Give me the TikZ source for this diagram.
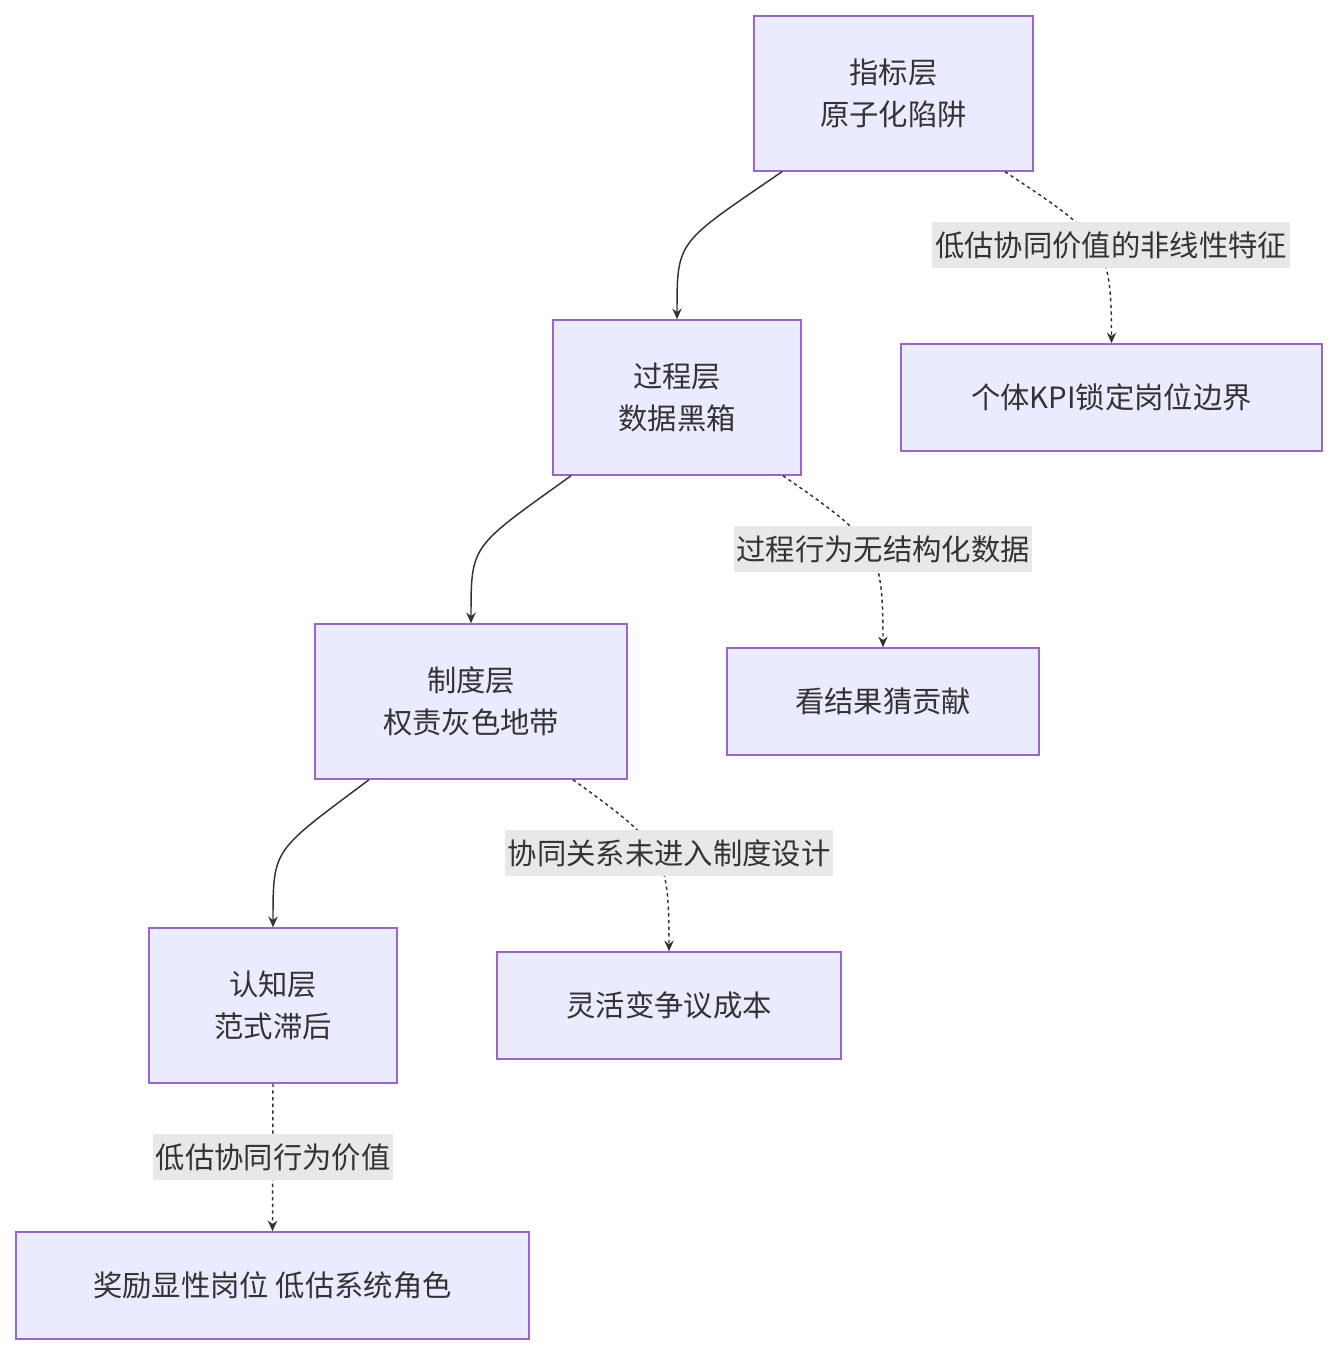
\documentclass[tikz,border=0pt]{standalone}
\usepackage{fontspec}
\setmainfont{Noto Sans CJK SC}
\usetikzlibrary{calc,arrows.meta}
\begin{document}
\begin{tikzpicture}[x=0.75pt,y=-0.75pt,
  box/.style={draw=violet!70!blue!60,fill=blue!8,line width=1.1pt,minimum height=155*0.75pt,align=center,font=\fontsize{22}{32}\selectfont,text=black!80,inner sep=0pt},
  sbox/.style={box,minimum height=107*0.75pt},
  lab/.style={fill=black!9,font=\fontsize{22}{28}\selectfont,text=black!80,inner sep=2pt,minimum height=46*0.75pt},
  sol/.style={draw=black!80,line width=1.1pt,-{Stealth[length=8pt,width=7pt]}},
  dsh/.style={sol,dashed,dash pattern=on 2.5pt off 2.5pt}]
\useasboundingbox (0,0) rectangle (1337,1356);
\node[box,minimum width=279*0.75pt] (A) at (893.5,93.5) {指标层\\原子化陷阱};
\node[box,minimum width=248*0.75pt] (B) at (677,397.5) {过程层\\数据黑箱};
\node[box,minimum width=312*0.75pt] (C) at (471,701.5) {制度层\\权责灰色地带};
\node[box,minimum width=248*0.75pt] (D) at (273,1005.5) {认知层\\范式滞后};
\node[sbox,minimum width=421*0.75pt] (E) at (1111.5,397.5) {个体KPI锁定岗位边界};
\node[sbox,minimum width=312*0.75pt] (F) at (883,701.5) {看结果猜贡献};
\node[sbox,minimum width=344*0.75pt] (G) at (669,1005.5) {灵活变争议成本};
\node[sbox,minimum width=513*0.75pt] (H) at (272.5,1285.5) {奖励显性岗位 低估系统角色};
% solid
\draw[sol] ($(A.south)+(-111.5,0)$) .. controls ($(A.south)+(-216.5,72)$) and ($(B.north)+(0,-80)$) .. (B.north);
\draw[sol] ($(B.south)+(-106,0)$) .. controls ($(B.south)+(-206,72)$) and ($(C.north)+(0,-80)$) .. (C.north);
\draw[sol] ($(C.south)+(-102,0)$) .. controls ($(C.south)+(-198,72)$) and ($(D.north)+(0,-80)$) .. (D.north);
% dashed
\draw[dsh] ($(A.south)+(111.5,0)$) .. controls ($(A.south)+(210,65)$) and ($(E.north)+(0,-100)$) .. (E.north);
\draw[dsh] ($(B.south)+(106,0)$) .. controls ($(B.south)+(200,65)$) and ($(F.north)+(0,-100)$) .. (F.north);
\draw[dsh] ($(C.south)+(102,0)$) .. controls ($(C.south)+(192,65)$) and ($(G.north)+(0,-100)$) .. (G.north);
\draw[dsh] (D.south) -- (H.north);
\node[lab] (L1) at (1111,245) {低估协同价值的非线性特征};
\node[lab] (L2) at (883,549) {过程行为无结构化数据};
\node[lab] (L3) at (669,853) {协同关系未进入制度设计};
\node[lab] (L4) at (273,1157) {低估协同行为价值};
\end{tikzpicture}
\end{document}
